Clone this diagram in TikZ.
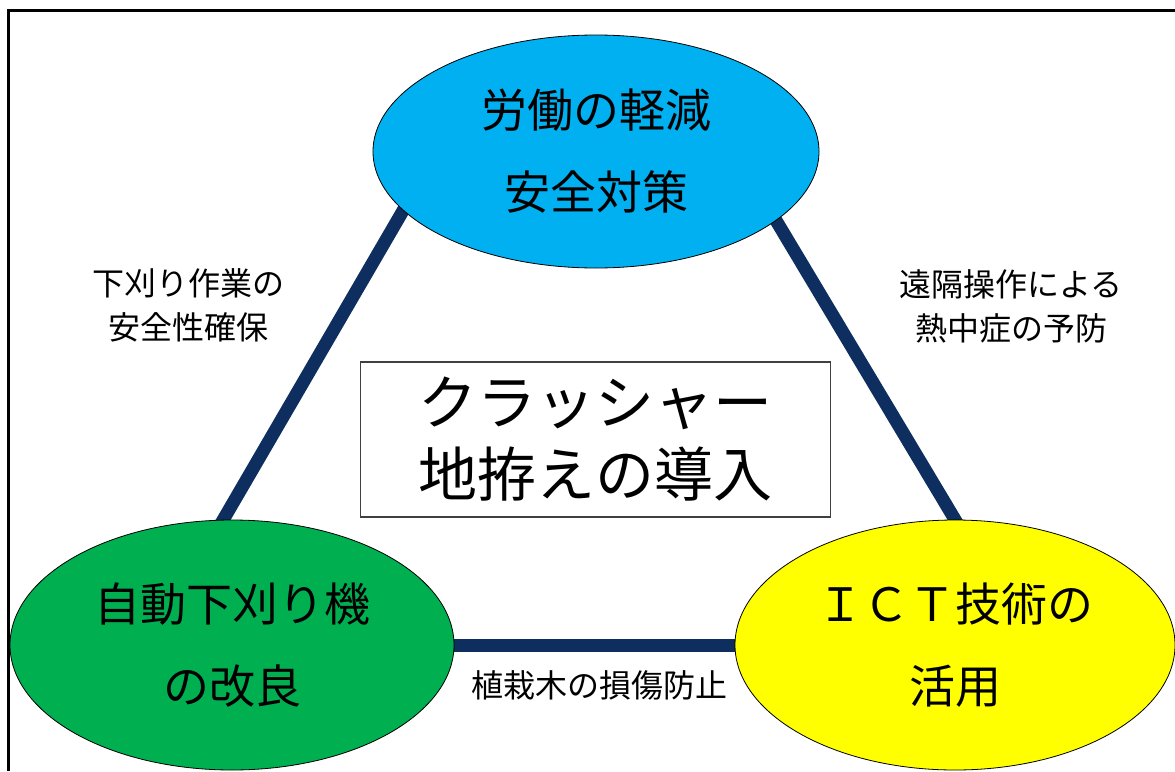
\documentclass[tikz,border=0pt]{standalone}
\usepackage{fontspec}
\setmainfont{Noto Sans CJK JP}
\usepackage{tikz}
\usetikzlibrary{shapes.geometric,backgrounds}
\definecolor{laborblue}{RGB}{0,176,240}
\definecolor{mowergreen}{RGB}{0,176,80}
\definecolor{ictyellow}{RGB}{255,255,0}
\definecolor{linknavy}{RGB}{13,46,94}

\begin{document}
\begin{tikzpicture}[x=1pt,y=-1pt,
  goal/.style={ellipse,draw=black,line width=0.8pt,inner sep=0pt,align=center,
    minimum width=446pt,minimum height=236pt,font=\fontsize{46}{82}\selectfont},
  link/.style={line width=13pt,draw=linknavy,shorten <=-8pt,shorten >=-8pt},
  note/.style={align=center,font=\fontsize{32}{44}\selectfont}]
\useasboundingbox (0,0) rectangle (1175,771);
\draw[line width=3pt] (8,771) -- (8,10) -- (1175,10);

\node[goal,fill=laborblue,minimum height=233pt] (labor) at (596,151.5) {労働の軽減\\安全対策};
\node[goal,fill=mowergreen,minimum width=444pt,minimum height=250pt] (mower) at (232,645) {自動下刈り機\\の改良};
\node[goal,fill=ictyellow,minimum width=440pt,minimum height=250pt] (ict) at (955,645) {ＩＣＴ技術の\\活用};

\begin{scope}[on background layer]
\draw[link] (labor.197) -- (mower.94);
\draw[link] (labor.339) -- (ict.90);
\draw[link] (mower.0) -- (ict.180);
\end{scope}

\node[draw=black!75,line width=1.2pt,minimum width=470pt,minimum height=155pt,align=center,
  font=\fontsize{59}{72}\selectfont] (crusher) at (595.5,439.5) {クラッシャー\\地拵えの導入};

\node[note] (safety) at (188,305) {下刈り作業の\\安全性確保};
\node[note] (heat) at (1011,306.5) {遠隔操作による\\熱中症の予防};
\node[note] (damage) at (599,685) {植栽木の損傷防止};
\end{tikzpicture}
\end{document}
